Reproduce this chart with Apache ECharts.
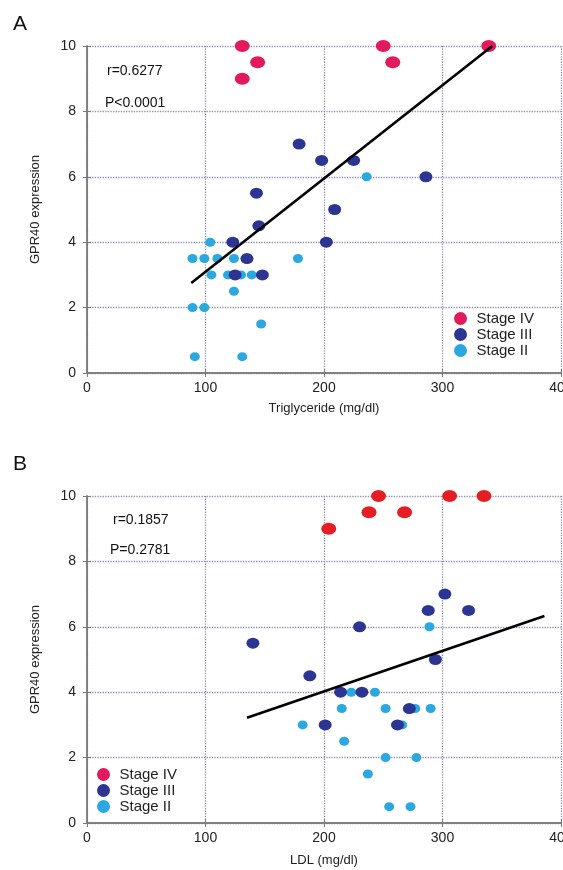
<!DOCTYPE html>
<html>
<head>
<meta charset="utf-8">
<script src="https://cdn.jsdelivr.net/npm/echarts@6/dist/echarts.min.js"></script>
<style>html,body{margin:0;padding:0;background:#fff;overflow:hidden}#c{width:563px;height:870px}</style>
</head>
<body>
<div id="c"></div>
<script>
// ---- data ----
var xTicksA = ['0','100','200','300','400'];
var yTicks = ['0','2','4','6','8','10'];
var stageIV_A = [[131,10],[144,9.5],[131,9],[250,10],[258,9.5],[339,10]];
var stageIII_A = [[179,7],[198,6.5],[225,6.5],[286,6],[143,5.5],[209,5],[145,4.5],[123,4],[202,4],[135,3.5],[125,3],[148,3]];
var stageII_A = [[236,6],[104,4],[89,3.5],[99,3.5],[110,3.5],[124,3.5],[178,3.5],[105,3],[119,3],[130,3],[139,3],[124,2.5],[89,2],[99,2],[147,1.5],[91,0.5],[131,0.5]];
var fitA = [[88,2.75],[342,10]];

var stageIV_B = [[246,10],[306,10],[335,10],[238,9.5],[268,9.5],[204,9]];
var stageIII_B = [[302,7],[288,6.5],[322,6.5],[230,6],[140,5.5],[294,5],[188,4.5],[214,4],[232,4],[272,3.5],[201,3],[262,3]];
var stageII_B = [[289,6],[223,4],[243,4],[215,3.5],[252,3.5],[277,3.5],[290,3.5],[182,3],[266,3],[217,2.5],[252,2],[278,2],[237,1.5],[255,0.5],[273,0.5]];
var fitB = [[135,3.22],[386,6.33]];

var statsA = ['r=0.6277','P<0.0001'];
var statsB = ['r=0.1857','P=0.2781'];

// ---- style ----
var FF = '"Liberation Sans", Arial, sans-serif';
var cPink = '#e2195b', cRed = '#e41e22', cBlue = '#2d3593', cCyan = '#2aa8df';
var axisCol = '#7b7b7b', gridCol = '#8e8eb8';

function bottomX(gi, name, gap) {
  return {
    gridIndex: gi, type: 'value', min: 0, max: 400, interval: 100, position: 'bottom',
    name: name, nameLocation: 'middle', nameGap: gap,
    nameTextStyle: {fontFamily: FF, fontSize: 13, color: '#222'},
    axisLine: {show: true, lineStyle: {color: axisCol, width: 1.5}},
    axisTick: {show: true, inside: true, length: 4, lineStyle: {color: axisCol}},
    axisLabel: {fontFamily: FF, fontSize: 14, color: '#222', margin: 8, hideOverlap: false,
      formatter: function (v) { return xTicksA[Math.round(v / 100)]; }},
    splitLine: {show: true, lineStyle: {color: gridCol, type: 'dotted', width: 1.3}}
  };
}
function topX(gi) {
  return {
    gridIndex: gi, type: 'value', min: 0, max: 400, interval: 100, position: 'top',
    axisLine: {show: true, lineStyle: {color: axisCol, width: 1.5}},
    axisTick: {show: true, inside: true, length: 4, lineStyle: {color: axisCol}},
    axisLabel: {show: false}, splitLine: {show: false}
  };
}
function leftY(gi) {
  return {
    gridIndex: gi, type: 'value', min: 0, max: 10, interval: 2, position: 'left',
    name: 'GPR40 expression', nameLocation: 'middle', nameGap: 45,
    nameTextStyle: {fontFamily: FF, fontSize: 13, color: '#222'},
    axisLine: {show: true, lineStyle: {color: axisCol, width: 1.5}},
    axisTick: {show: true, inside: true, length: 4, lineStyle: {color: axisCol}},
    axisLabel: {fontFamily: FF, fontSize: 14, color: '#222', margin: 11,
      formatter: function (v) { return yTicks[Math.round(v / 2)]; }},
    splitLine: {show: true, lineStyle: {color: gridCol, type: 'dotted', width: 1.3}}
  };
}
function rightY(gi) {
  return {
    gridIndex: gi, type: 'value', min: 0, max: 10, interval: 2, position: 'right',
    axisLine: {show: true, lineStyle: {color: axisCol, width: 1.5}},
    axisTick: {show: true, inside: true, length: 4, lineStyle: {color: axisCol}},
    axisLabel: {show: false}, splitLine: {show: false}
  };
}
function scatter(name, data, xi, yi, color, size, z) {
  return {type: 'scatter', name: name, data: data, xAxisIndex: xi, yAxisIndex: yi,
    symbol: 'circle', symbolSize: size, z: z, itemStyle: {color: color, opacity: 1}};
}
function fit(data, xi, yi) {
  return {type: 'line', data: data, xAxisIndex: xi, yAxisIndex: yi, showSymbol: false,
    symbol: 'none', z: 5, lineStyle: {color: '#000', width: 2.6}, silent: true};
}
function legendData() {
  return [
    {name: 'Stage IV', itemStyle: {color: cPink}},
    {name: 'Stage III', itemStyle: {color: cBlue}},
    {name: 'Stage II', itemStyle: {color: cCyan}}
  ];
}
function txt(x, y, s, size) {
  return {type: 'text', left: x, top: y, style: {text: s, font: size + 'px ' + FF, fill: '#111'}};
}

var chart = echarts.init(document.getElementById('c'), null, {renderer: 'canvas', width: 563, height: 870});
chart.setOption({
  animation: false,
  backgroundColor: '#fff',
  grid: [
    {left: 87, top: 46, width: 474, height: 327, containLabel: false, outerBoundsMode: 'none'},
    {left: 87, top: 496, width: 474, height: 327, containLabel: false, outerBoundsMode: 'none'}
  ],
  xAxis: [bottomX(0, 'Triglyceride (mg/dl)', 29), topX(0), bottomX(1, 'LDL (mg/dl)', 31), topX(1)],
  yAxis: [leftY(0), rightY(0), leftY(1), rightY(1)],
  legend: [
    {orient: 'vertical', left: 449, top: 306, itemWidth: 22, itemHeight: 13, itemGap: 1,
      textStyle: {fontFamily: FF, fontSize: 15, color: '#222'}, data: legendData(), selectedMode: false},
    {orient: 'vertical', left: 92, top: 762, itemWidth: 22, itemHeight: 13, itemGap: 1,
      textStyle: {fontFamily: FF, fontSize: 15, color: '#222'}, data: legendData(), selectedMode: false}
  ],
  graphic: [
    txt(13, 14, 'A', 21),
    txt(13, 454, 'B', 21),
    txt(107, 64, statsA[0], 14),
    txt(105, 96, statsA[1], 14),
    txt(113, 513, statsB[0], 14),
    txt(110, 543, statsB[1], 14)
  ],
  series: [
    scatter('Stage IV', stageIV_A, 0, 0, cPink, [15, 12], 4),
    scatter('Stage III', stageIII_A, 0, 0, cBlue, [13, 11], 3),
    scatter('Stage II', stageII_A, 0, 0, cCyan, [10, 9], 2),
    fit(fitA, 0, 0),
    scatter('Stage IV', stageIV_B, 2, 2, cRed, [15, 12], 4),
    scatter('Stage III', stageIII_B, 2, 2, cBlue, [13, 11], 3),
    scatter('Stage II', stageII_B, 2, 2, cCyan, [10, 9], 2),
    fit(fitB, 2, 2)
  ]
});
</script>
</body>
</html>
